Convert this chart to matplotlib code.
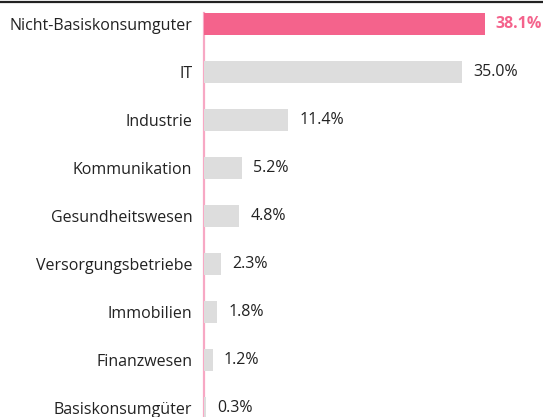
import matplotlib.pyplot as plt
from matplotlib.lines import Line2D

categories = ['Nicht-Basiskonsumguter', 'IT', 'Industrie', 'Kommunikation',
              'Gesundheitswesen', 'Versorgungsbetriebe', 'Immobilien',
              'Finanzwesen', 'Basiskonsumgüter']
values = [38.1, 35.0, 11.4, 5.2, 4.8, 2.3, 1.8, 1.2, 0.3]

pink = '#f4638c'
gray = '#dddddd'

plt.rcParams['font.family'] = ['Open Sans', 'DejaVu Sans']

fig = plt.figure(figsize=(5.43, 4.17), dpi=100)
ax = fig.add_axes([204 / 543, 0, 1 - 204 / 543, 1 - 2 / 417])

pos = list(range(len(categories)))
colors = [pink] + [gray] * (len(categories) - 1)
ax.barh(pos, values, height=0.46, color=colors, zorder=2)

for i, v in enumerate(values):
    if i == 0:
        ax.text(v + 1.5, i, f'{v:.1f}%', va='center', ha='left',
                fontsize=11.5, color=pink, fontweight='bold')
    else:
        ax.text(v + 1.5, i, f'{v:.1f}%', va='center', ha='left',
                fontsize=11.5, color='#222222')

ybottom = (417 - 24) / 48
ax.set_xlim(0, 46)
ax.set_ylim(ybottom, -22 / 48)
ax.set_yticks(pos)
ax.set_yticklabels(categories, fontsize=11.5, color='#222222')
ax.tick_params(axis='y', length=0, pad=8.5)
ax.set_xticks([])
for s in ['top', 'right', 'bottom']:
    ax.spines[s].set_visible(False)
ax.spines['left'].set_color('#f7a8c4')
ax.spines['left'].set_linewidth(1.6)
ax.spines['left'].set_zorder(1)
ax.spines['left'].set_bounds(-0.23, ybottom)

fig.add_artist(Line2D([0, 1], [1 - 2 / 417, 1 - 2 / 417], color='#222222',
                      linewidth=1.6, transform=fig.transFigure))

fig.savefig('out.png', dpi=100)
